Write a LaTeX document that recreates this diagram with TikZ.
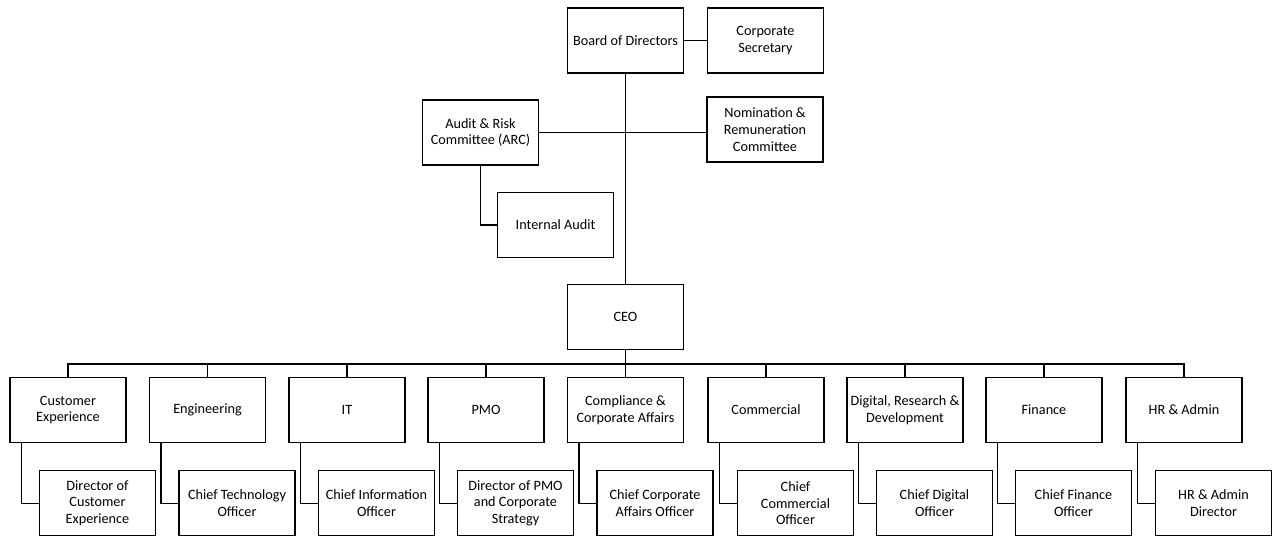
\documentclass[tikz,border=0pt]{standalone}
\usepackage{fontspec}
\setmainfont{Carlito}
\usetikzlibrary{positioning}

\begin{document}
\begin{tikzpicture}[
  x=0.02cm, y=-0.02cm,
  unit/.style={draw=black,line width=0.7pt,fill=white,align=center,minimum width=2.32cm,minimum height=1.3cm,inner sep=1pt,font=\fontsize{8.1}{9.5}\selectfont},
  link/.style={line width=0.7pt,black}
]
  \useasboundingbox (0,0) rectangle (1272,537);
  % board level
  \node[unit] (bod) at (625.5,40.5) {Board of Directors};
  \node[unit] (sec) at (765.5,40.5) {Corporate\\Secretary};
  \node[unit] (arc) at (480.5,132.5) {Audit \& Risk\\Committee (ARC)};
  \node[unit] (nrc) at (765,129.5) {Nomination \&\\Remuneration\\Committee};
  \node[unit] (ia) at (555.5,225) {Internal Audit};
  \node[unit] (ceo) at (625.5,317) {CEO};
  % departments
  \node[unit] (cx) at (68,410) {Customer\\Experience};
  \node[unit] (eng) at (207.5,410) {Engineering};
  \node[unit] (it) at (347,410) {IT};
  \node[unit] (pmo) at (486,410) {PMO};
  \node[unit] (comp) at (625.5,410) {Compliance \&\\Corporate Affairs};
  \node[unit] (com) at (766,410) {Commercial};
  \node[unit] (dig) at (905,410) {Digital, Research \&\\Development};
  \node[unit] (fin) at (1044,410) {Finance};
  \node[unit] (hr) at (1184,410) {HR \& Admin};
  % heads
  \node[unit,below right=0.54cm and 0.59cm of cx.south west] (cxhead) {Director of\\Customer\\Experience};
  \node[unit,below right=0.54cm and 0.59cm of eng.south west] (enghead) {Chief Technology\\Officer};
  \node[unit,below right=0.54cm and 0.59cm of it.south west] (ithead) {Chief Information\\Officer};
  \node[unit,below right=0.54cm and 0.59cm of pmo.south west] (pmohead) {Director of PMO\\and Corporate\\Strategy};
  \node[unit,below right=0.54cm and 0.59cm of comp.south west] (comphead) {Chief Corporate\\Affairs Officer};
  \node[unit,below right=0.54cm and 0.59cm of com.south west] (comhead) {Chief\\Commercial\\Officer};
  \node[unit,below right=0.54cm and 0.59cm of dig.south west] (dighead) {Chief Digital\\Officer};
  \node[unit,below right=0.54cm and 0.59cm of fin.south west] (finhead) {Chief Finance\\Officer};
  \node[unit,below right=0.54cm and 0.59cm of hr.south west] (hrhead) {HR \& Admin\\Director};
  % lines
  \draw[link] (bod) -- (sec);
  \draw[link] (bod.south) -- (ceo.north);
  \draw[link] (arc.east) -- (arc.east -| nrc.west);
  \draw[link] (arc.south) |- (ia.west);
  \foreach \d in {cx,eng,it,pmo,comp,com,dig,fin,hr} {
    \draw[link] (ceo.south) -- ++(0,14) -| (\d.north);
    \draw[link] ([xshift=0.24cm]\d.south west) |- (\d head.west);
  }
\end{tikzpicture}
\end{document}
